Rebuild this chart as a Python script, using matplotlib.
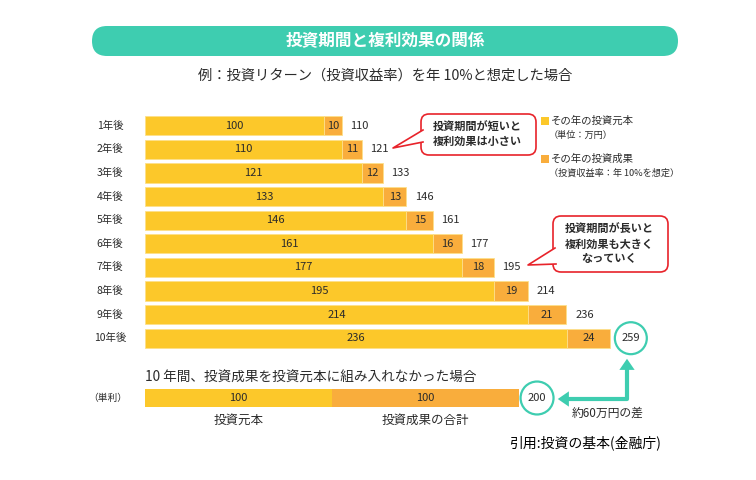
import matplotlib
matplotlib.use("Agg")
import matplotlib.pyplot as plt
from matplotlib.patches import FancyBboxPatch, Polygon, FancyArrowPatch, Rectangle

plt.rcParams['font.family'] = ['Noto Sans CJK JP', 'DejaVu Sans']

# data (万円)
years = ["1年後", "2年後", "3年後", "4年後", "5年後", "6年後", "7年後", "8年後", "9年後", "10年後"]
principal = [100, 110, 121, 133, 146, 161, 177, 195, 214, 236]
gain = [10, 11, 12, 13, 15, 16, 18, 19, 21, 24]
total = [110, 121, 133, 146, 161, 177, 195, 214, 236, 259]
simple_parts = [100, 100]
simple_labels = ["投資元本", "投資成果の合計"]
simple_total = 200

YEL = "#FCC82A"
ORG = "#F9AD3C"
TEAL = "#3ECDB0"
RED = "#E8232A"
TXT = "#2b2b2b"

W, H = 756, 480
fig = plt.figure(figsize=(W / 100, H / 100), dpi=100)

# main bars
scale = 1.79  # px per unit
ax = fig.add_axes([145 / W, 1 - 350 / H, 555 / W, 236 / H])
ax.set_xlim(0, 555 / scale)
ax.set_ylim(len(years) + 0.5, 0.5)
ax.axis("off")
ys = list(range(1, len(years) + 1))
ax.barh(ys, principal, height=0.82, color=YEL, edgecolor="#FDE08A", lw=0.6)
ax.barh(ys, gain, left=principal, height=0.82, color=ORG, edgecolor="#FDE08A", lw=0.6)
for y, lab, p, g, t in zip(ys, years, principal, gain, total):
    ax.text(-(145 - 110) / scale, y, lab, ha="center", va="center", fontsize=7.5, color=TXT)
    ax.text(p / 2, y, str(p), ha="center", va="center", fontsize=8, color=TXT)
    ax.text(p + g / 2, y, str(g), ha="center", va="center", fontsize=8, color=TXT)
    if y < len(years):
        ax.annotate(str(t), xy=(t, y), xytext=(6, 0), textcoords="offset points",
                    ha="left", va="center", fontsize=8, color=TXT)
    else:
        ax.annotate(str(t), xy=(t, y), xytext=(16, 0), textcoords="offset points",
                    ha="center", va="center", fontsize=8, color=TXT,
                    bbox=dict(boxstyle="circle,pad=0.6", fc="white", ec=TEAL, lw=1.6))

# simple interest bar
scale2 = 1.87
ax2 = fig.add_axes([145 / W, 1 - 416 / H, 555 / W, 36 / H])
ax2.set_xlim(0, 555 / scale2)
ax2.set_ylim(-1, 1)
ax2.axis("off")
left = 0
for v, col, lab in zip(simple_parts, [YEL, ORG], simple_labels):
    ax2.barh(0, v, left=left, height=1.05, color=col, edgecolor="none")
    ax2.text(left + v / 2, 0, str(v), ha="center", va="center", fontsize=8, color=TXT)
    ax2.annotate(lab, xy=(left + v / 2, 0), xytext=(0, -16), textcoords="offset points",
                 ha="center", va="center", fontsize=9, color=TXT)
    left += v
ax2.text(-(145 - 108) / scale2, 0, "（単利）", ha="center", va="center", fontsize=7, color=TXT)
ax2.annotate(str(simple_total), xy=(simple_total, 0), xytext=(13, 0), textcoords="offset points",
             ha="center", va="center", fontsize=8, color=TXT,
             bbox=dict(boxstyle="circle,pad=0.65", fc="white", ec=TEAL, lw=1.6))

# overlay in pixel coordinates for the decorations
deco = fig.add_axes([0, 0, 1, 1])
deco.set_xlim(0, W)
deco.set_ylim(H, 0)
deco.axis("off")

# banner
deco.add_patch(FancyBboxPatch((92, 26), 586, 30, boxstyle="round,pad=0,rounding_size=15",
                              fc=TEAL, ec="none"))
deco.text(385, 41, "投資期間と複利効果の関係", color="white", fontsize=12,
          fontweight="bold", ha="center", va="center")
deco.text(385, 76, "例：投資リターン（投資収益率）を年 10%と想定した場合", color=TXT,
          fontsize=10.3, ha="center", va="center")

# legend
for yy, col, l1, l2 in [(121, YEL, "その年の投資元本", "（単位：万円）"),
                        (159, ORG, "その年の投資成果", "（投資収益率：年 10%を想定）")]:
    deco.add_patch(Rectangle((541, yy - 4), 8, 8, fc=col, ec="none"))
    deco.text(551, yy, l1, fontsize=7.5, color=TXT, ha="left", va="center")
    deco.text(549, yy + 14, l2, fontsize=6.6, color=TXT, ha="left", va="center")


# callouts
def callout(x0, y0, x1, y1, tail, text):
    deco.add_patch(FancyBboxPatch((x0, y0), x1 - x0, y1 - y0,
                                  boxstyle="round,pad=0,rounding_size=8",
                                  fc="white", ec=RED, lw=1.2))
    a, tip, b = tail
    deco.add_patch(Polygon([a, tip, b], closed=True, fc="white", ec="none"))
    deco.plot(*zip(a, tip, b), color=RED, lw=1.2)
    deco.text((x0 + x1) / 2 - 1, (y0 + y1) / 2, text, fontsize=8, fontweight="bold",
              color=TXT, ha="center", va="center", linespacing=1.15)


callout(421, 114, 536, 155, ((423, 130), (393, 148), (423, 142)),
        "投資期間が短いと\n複利効果は小さい")
callout(553, 216, 668, 272, ((555, 248), (528, 265), (556, 264)),
        "投資期間が長いと\n複利効果も大きく\nなっていく")

deco.text(145, 378, "10 年間、投資成果を投資元本に組み入れなかった場合", fontsize=9.8,
          color=TXT, ha="left", va="center")

# arrow between circles
deco.plot([566, 627, 627], [399, 399, 366], color=TEAL, lw=3, solid_capstyle="butt")
for start, end in [((568, 399), (555, 399)), ((627, 368), (627, 356))]:
    deco.add_patch(FancyArrowPatch(start, end, arrowstyle="-|>,head_length=8,head_width=5.5",
                                   mutation_scale=1, color=TEAL, lw=0))
deco.text(608, 413, "約60万円の差", fontsize=8.5, color=TXT, ha="center", va="center")

deco.text(509, 443, "引用:投資の基本(金融庁)", fontsize=10, color="black", ha="left", va="center")

fig.savefig("out.png", dpi=100)
